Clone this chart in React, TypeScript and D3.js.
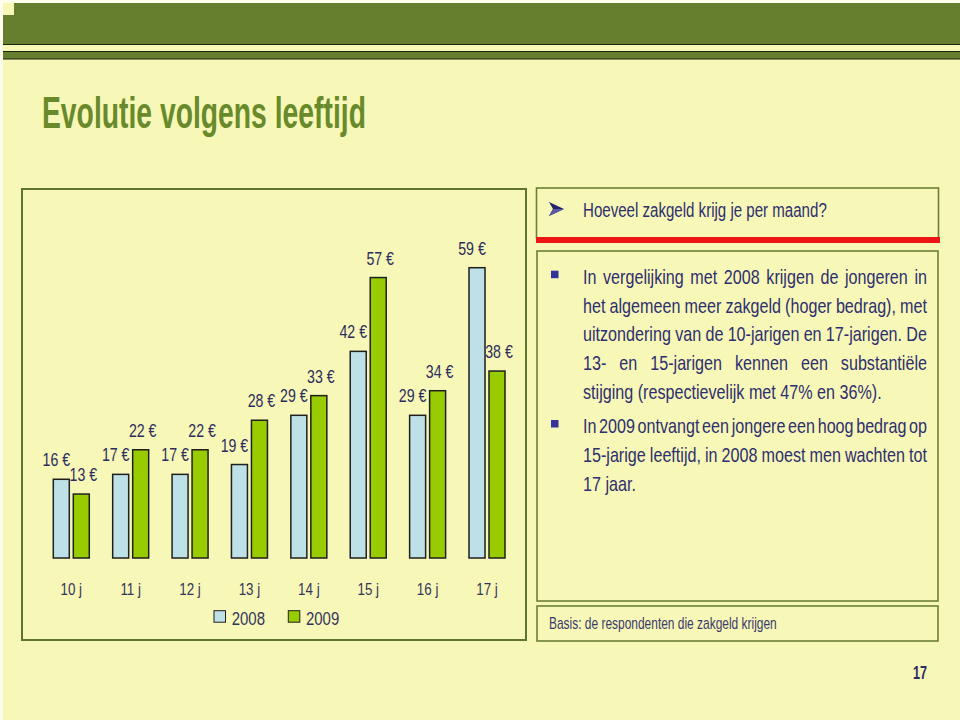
import React from 'react';
import * as d3 from 'd3';

// zakgeld per maand, per leeftijd
const ages = ['10 j', '11 j', '12 j', '13 j', '14 j', '15 j', '16 j', '17 j'];
const years = ['2008', '2009'];
const values2008 = [16, 17, 17, 19, 29, 42, 29, 59];
const values2009 = [13, 22, 22, 28, 33, 57, 34, 38];
const yearColors = ['#BEE0E7', '#99CC00'];

const title = 'Evolutie volgens leeftijd';
const question = 'Hoeveel zakgeld krijg je per maand?';
const para1 = [
  'In vergelijking met 2008 krijgen de jongeren in',
  'het algemeen meer zakgeld (hoger bedrag), met',
  'uitzondering van de 10-jarigen en 17-jarigen. De',
  '13- en 15-jarigen kennen een substantiële',
  'stijging (respectievelijk met 47% en 36%).',
];
const para2 = [
  'In 2009 ontvangt een jongere een hoog bedrag op',
  '15-jarige leeftijd, in 2008 moest men wachten tot',
  '17 jaar.',
];
const basis = 'Basis: de respondenten die zakgeld krijgen';
const pageNr = '17';

const FONT = "'Liberation Sans', Arial, sans-serif";
const NAVY = '#2E2F6E';
const OLIVE = '#667F2E';
const CREAM = '#F7F7B8';

let ctx: CanvasRenderingContext2D | null = null;
function textWidth(s: string, size: number, weight = 'normal') {
  if (!ctx) ctx = document.createElement('canvas').getContext('2d');
  ctx!.font = `${weight} ${size}px ${FONT}`;
  return ctx!.measureText(s).width;
}

// the original uses a condensed face, squeeze ours to match
const BODY = 20.5;
const K = 298.7 / textWidth(para1[4], BODY);

function Narrow(props: any) {
  const { x, y, text, size, fill = NAVY, anchor = 'start', width, weight = 'normal' } = props;
  const nat = textWidth(text, size, weight);
  const w = width ?? nat * K;
  const x0 = anchor === 'middle' ? x - w / 2 : anchor === 'end' ? x - w : x;
  return (
    <text transform={`translate(${x0},${y}) scale(${w / nat},1)`} fontSize={size}
      fontFamily={FONT} fontWeight={weight} fill={fill}>{text}</text>
  );
}

// one text per line, words spread out with tspans when justified
function Line({ x, y, text, width, justify }: any) {
  const words = text.split(' ').filter((d: string) => d.length);
  const ws = words.map((d: string) => textWidth(d, BODY));
  const total = d3.sum(ws);
  const gap = justify && words.length > 1 ? (width / K - total) / (words.length - 1) : textWidth(' ', BODY);
  const xs = d3.cumsum([0, ...ws.slice(0, -1).map((w: number) => w + gap)]);
  return (
    <text transform={`translate(${x},${y}) scale(${K},1)`} fontSize={BODY} fontFamily={FONT} fill={NAVY}>
      {words.map((d: string, i: number) => (
        <tspan key={i} x={xs[i]}>{d}</tspan>
      ))}
    </text>
  );
}

export default function App() {
  const width = 960;
  const height = 720;

  const x0 = d3.scaleBand().domain(ages).range([41.6, 516.7]).paddingInner(0.394).paddingOuter(0.197);
  const x1 = d3.scaleBand().domain(years).range([0, x0.bandwidth()]).paddingInner(0.2);
  const y = d3.scaleLinear().domain([0, 60]).range([558, 262.8]);
  const series = [values2008, values2009];

  const textX = 583;
  const textW = 344;
  const lineStep = 28.7;

  return (
    <svg width={width} height={height} style={{ position: 'absolute', left: 0, top: 0, display: 'block' }}>
      <rect width={width} height={height} fill="#FDFDEB" />
      <rect x={3} y={3} width={width - 3} height={height - 3} fill={CREAM} />

      {/* header band */}
      <path d={`M14,3 H${width} V44 H3 V15 H14 Z`} fill={OLIVE} />
      <line x1={3} x2={width} y1={44.5} y2={44.5} stroke="#1E2410" strokeWidth={1.2} />
      <rect x={3} y={51.5} width={width - 3} height={7.5} fill={OLIVE} />
      <line x1={3} x2={width} y1={51.5} y2={51.5} stroke="#1E2410" strokeWidth={1.2} />
      <line x1={3} x2={width} y1={59} y2={59} stroke="#1E2410" strokeWidth={1.2} />

      <Narrow x={42} y={128} text={title} size={44} weight="bold" fill="#688A2A" width={324} />

      {/* chart panel */}
      <rect x={22} y={189} width={504} height={451} fill="none" stroke="#5E7430" strokeWidth={2} />
      {ages.map((age, i) => (
        <g key={age} transform={`translate(${x0(age)},0)`}>
          {years.map((yr, j) => {
            const v = series[j][i];
            return (
              <rect key={yr} x={x1(yr)} y={y(v)} width={x1.bandwidth()} height={y(0) - y(v)}
                fill={yearColors[j]} stroke="#1F1F1F" strokeWidth={1.5} />
            );
          })}
        </g>
      ))}
      {ages.map((age, i) =>
        years.map((yr, j) => {
          const v = series[j][i];
          const cx = x0(age)! + x1(yr)! + x1.bandwidth() / 2 + (j === 0 ? -5 : 2);
          return <Narrow key={age + yr} x={cx} y={y(v) - 13} text={`${v} €`} size={18} anchor="middle" fill="#2C2D5E" />;
        })
      )}
      {ages.map((age) => (
        <Narrow key={age} x={x0(age)! + x0.bandwidth() / 2} y={595} text={age} size={17} anchor="middle" fill="#34355A" />
      ))}
      {years.map((yr, j) => {
        const lx = 214 + j * 74.3;
        return (
          <g key={yr}>
            <rect x={lx} y={610.7} width={11.5} height={11.5} fill={yearColors[j]} stroke="#1F1F1F" strokeWidth={1} />
            <Narrow x={lx + 17.7} y={625} text={yr} size={19} fill="#34355A" />
          </g>
        );
      })}

      {/* question box */}
      <rect x={536.5} y={188} width={402} height={50} fill="none" stroke="#6B7F36" strokeWidth={1.6} />
      <rect x={536} y={237} width={404} height={6} fill="#EE1515" />
      <path d="M549,202 L564,209 L549,216 L553,209 Z" fill="#23236B" />
      <path d="M553,209 L564,209 L549,216 Z" fill="#5A5AA0" />
      <Narrow x={textX} y={216.7} text={question} size={21} width={244} />

      {/* text box */}
      <rect x={537} y={251} width={401} height={350} fill="none" stroke="#6B7F36" strokeWidth={1.6} />
      <rect x={551} y={270.7} width={7.5} height={7.5} fill="#333399" />
      {para1.map((t, i) => (
        <Line key={t} x={textX} y={284 + i * lineStep} text={t} width={textW} justify={i < para1.length - 1} />
      ))}
      <rect x={551} y={420} width={7.5} height={7.5} fill="#333399" />
      {para2.map((t, i) => (
        <Line key={t} x={textX} y={433.3 + i * lineStep} text={t} width={textW} justify={i < para2.length - 1} />
      ))}

      {/* basis */}
      <rect x={537} y={606} width={401} height={35} fill="none" stroke="#6B7F36" strokeWidth={1.6} />
      <Narrow x={549} y={629} text={basis} size={16} width={228} fill="#3A3B6B" />

      <Narrow x={927} y={679} text={pageNr} size={18} weight="bold" anchor="end" fill="#2B2B66" width={14} />
    </svg>
  );
}
